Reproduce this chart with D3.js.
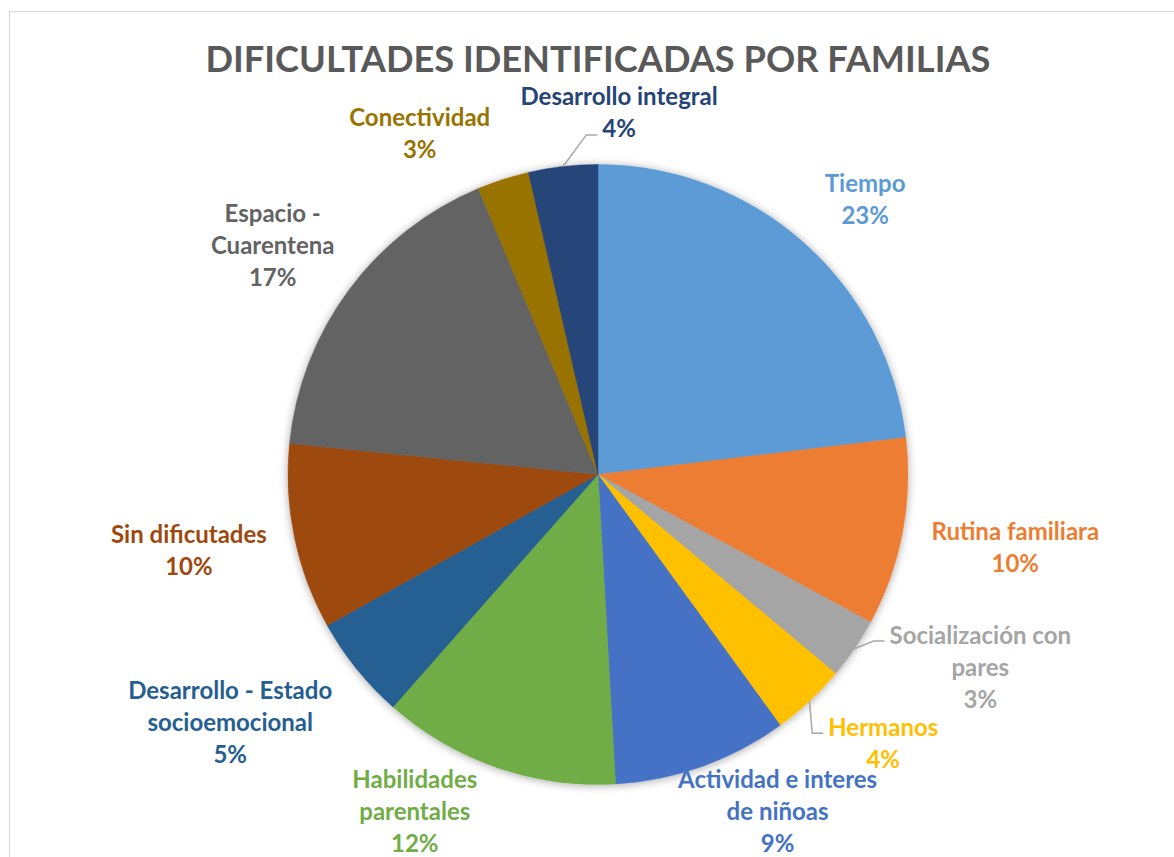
<!DOCTYPE html>
<html>
<head>
<meta charset="utf-8">
<script src="https://cdn.jsdelivr.net/npm/d3@7/dist/d3.min.js"></script>
<style>
  html, body { margin: 0; padding: 0; background: #fff; }
  svg { display: block; }
</style>
</head>
<body>
<svg id="chart" width="1174" height="857"></svg>
<script>
// ---- data ----
const categories = [
  'Tiempo',
  'Rutina familiara',
  'Socialización con pares',
  'Hermanos',
  'Actividad e interes de niñoas',
  'Habilidades parentales',
  'Desarrollo - Estado socioemocional',
  'Sin dificutades',
  'Espacio - Cuarentena',
  'Conectividad',
  'Desarrollo integral',
];
const shares = [23.1, 9.8, 3.2, 3.9, 9.1, 12.4, 5.4, 9.7, 17.1, 2.7, 3.6];
const sliceColors = [
  '#5B9BD5', '#ED7D31', '#A5A5A5', '#FFC000', '#4472C4', '#70AD47',
  '#255E91', '#9E480E', '#636363', '#997300', '#264478',
];
const chartTitle = 'DIFICULTADES IDENTIFICADAS POR FAMILIAS';

// how each label wraps
const labelBreaks = {
  'Socialización con pares': ['Socialización con', 'pares'],
  'Actividad e interes de niñoas': ['Actividad e interes', 'de niñoas'],
  'Habilidades parentales': ['Habilidades', 'parentales'],
  'Desarrollo - Estado socioemocional': ['Desarrollo - Estado', 'socioemocional'],
  'Espacio - Cuarentena': ['Espacio -', 'Cuarentena'],
};

// ---- layout ----
const cfg = {
  cx: 598, cy: 474.5, r: 310,
  labelRadius: 380,
  lineH: 32,
  fontFamily: 'Lato, "Open Sans", sans-serif',
  labelSize: 24,
  titleY: 58, titleWidth: 785,
};
// label offsets from the plain outer centroid (Excel moves some of them)
const labelNudge = {
  'Tiempo': [15, 8],
  'Rutina familiara': [44, 1],
  'Socialización con pares': [68, -22],
  'Hermanos': [26, -10],
  'Actividad e interes de niñoas': [52, -22],
  'Habilidades parentales': [-59, -23],
  'Desarrollo - Estado socioemocional': [-72, 8],
  'Sin dificutades': [-37, -2],
  'Espacio - Cuarentena': [-20, -4],
  'Conectividad': [-62, 20],
  'Desarrollo integral': [64, 15],
};
// labels with a leader line, and which text line it points at
const leaders = {
  'Socialización con pares': 0,
  'Hermanos': 0,
  'Desarrollo integral': 1,
};

const svg = d3.select('#chart');

// chart area frame
svg.append('rect')
  .attr('x', 9.5).attr('y', 11.5)
  .attr('width', 1300).attr('height', 1000)
  .attr('fill', '#fff')
  .attr('stroke', '#d9d9d9')
  .attr('stroke-width', 1.2);

const defs = svg.append('defs');
const shadow = defs.append('filter')
  .attr('id', 'pie-shadow')
  .attr('x', '-10%').attr('y', '-10%')
  .attr('width', '120%').attr('height', '120%');
shadow.append('feDropShadow')
  .attr('dx', 0).attr('dy', 1)
  .attr('stdDeviation', 4)
  .attr('flood-color', '#000')
  .attr('flood-opacity', 0.35);

// title, scaled to the reference width
const title = svg.append('text')
  .attr('x', cfg.cx)
  .attr('y', cfg.titleY)
  .attr('text-anchor', 'middle')
  .attr('dominant-baseline', 'central')
  .style('font-family', cfg.fontFamily)
  .style('font-weight', 700)
  .style('font-size', '40px')
  .style('fill', '#595959')
  .text(chartTitle);
const tw = title.node().getComputedTextLength();
title.style('font-size', `${40 * cfg.titleWidth / tw}px`);

// pie
const data = categories.map((name, i) => ({ name, value: shares[i], color: sliceColors[i] }));
const total = d3.sum(shares);
const pie = d3.pie().value((d) => d.value).sort(null);
const arcs = pie(data);

const arc = d3.arc().innerRadius(0).outerRadius(cfg.r);
const edgeArc = d3.arc().innerRadius(cfg.r).outerRadius(cfg.r);
const labelArc = d3.arc().innerRadius(cfg.labelRadius).outerRadius(cfg.labelRadius);

const g = svg.append('g').attr('transform', `translate(${cfg.cx},${cfg.cy})`);

g.append('g')
  .attr('filter', 'url(#pie-shadow)')
  .selectAll('path')
  .data(arcs)
  .join('path')
  .attr('d', arc)
  .attr('fill', (d) => d.data.color)
  .attr('stroke', (d) => d.data.color)
  .attr('stroke-width', 0.5);

// labels
const labels = g.append('g').attr('class', 'labels');
arcs.forEach((d) => {
  const name = d.data.name;
  const lines = (labelBreaks[name] || [name]).concat(`${Math.round(d.data.value / total * 100)}%`);
  const [bx, by] = labelArc.centroid(d);
  const [nx, ny] = labelNudge[name] || [0, 0];
  const x = bx + nx;
  const y0 = by + ny - (lines.length - 1) * cfg.lineH / 2;

  const text = labels.append('text')
    .attr('text-anchor', 'middle')
    .style('font-family', cfg.fontFamily)
    .style('font-weight', 700)
    .style('font-size', `${cfg.labelSize}px`)
    .style('fill', d.data.color);

  const spans = lines.map((line, i) =>
    text.append('tspan')
      .attr('x', x)
      .attr('y', y0 + i * cfg.lineH)
      .attr('dominant-baseline', 'central')
      .text(line)
  );

  if (name in leaders) {
    const li = leaders[name];
    const w = spans[li].node().getComputedTextLength();
    const ex = x - w / 2 - 5;
    const ey = y0 + li * cfg.lineH + 7;
    const [sx, sy] = edgeArc.centroid(d);
    labels.insert('path', 'text')
      .attr('d', d3.line()([[sx, sy], [ex - 11, ey], [ex, ey]]))
      .attr('fill', 'none')
      .attr('stroke', '#a6a6a6')
      .attr('stroke-width', 1.5);
  }
});
</script>
</body>
</html>
